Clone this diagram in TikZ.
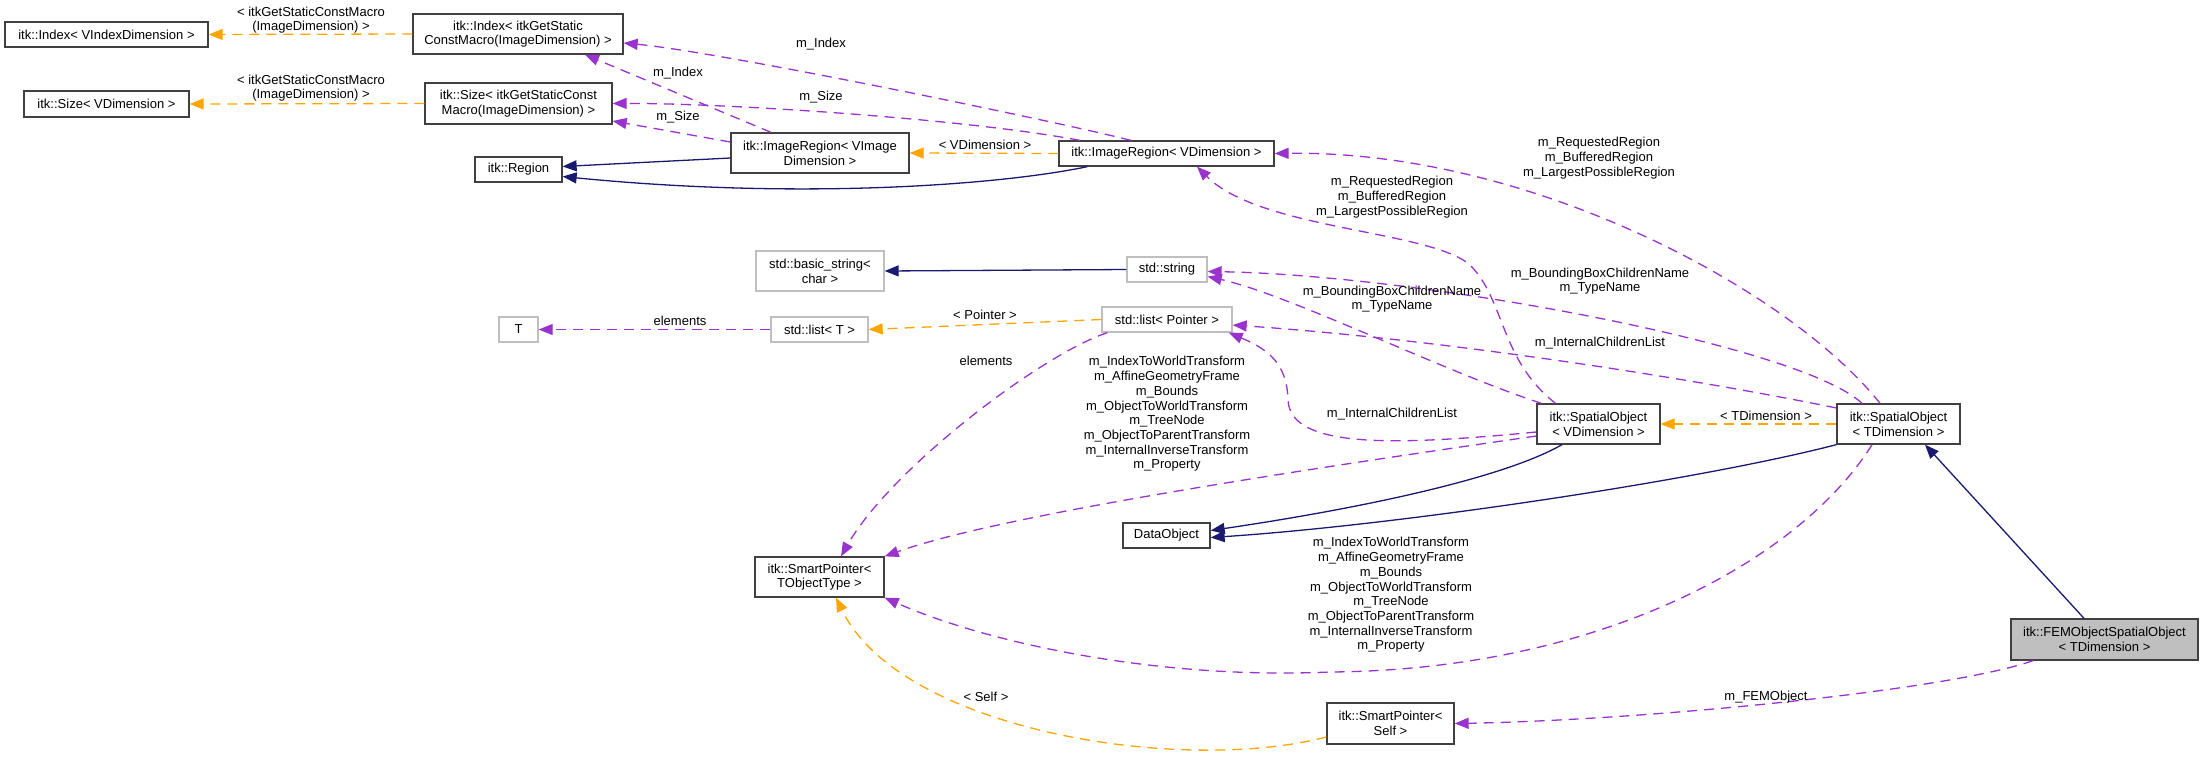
\documentclass[tikz,border=0pt]{standalone}
\usepackage{fontspec}
\setmainfont{Liberation Sans}
\usetikzlibrary{arrows.meta}
\definecolor{DoxNavy}{HTML}{191970}
\definecolor{DoxPurple}{HTML}{9A32CD}
\definecolor{DoxOrange}{HTML}{FFA500}
\definecolor{DoxGrey}{HTML}{BFBFBF}
\definecolor{DoxFrame}{HTML}{404040}
\tikzset{
  cls/.style={draw=DoxFrame,line width=1.3pt,fill=white,align=center,inner sep=0pt,
    font=\fontsize{13}{14.7}\selectfont},
  ext/.style={cls,draw=DoxGrey},
  cur/.style={cls,fill=DoxGrey},
  lbl/.style={align=center,inner sep=0pt,font=\fontsize{13}{14.7}\selectfont},
  inherit/.style={-{Triangle[length=14pt,width=11pt]},line width=1.3pt,draw=DoxNavy},
  member/.style={-{Triangle[length=14pt,width=11pt]},line width=1.3pt,draw=DoxPurple,
    dash pattern=on 10pt off 7pt},
  tmpl/.style={-{Triangle[length=14pt,width=11pt]},line width=1.3pt,draw=DoxOrange,
    dash pattern=on 10pt off 7pt}
}

\begin{document}
\begin{tikzpicture}[x=1pt,y=-1pt]
  \useasboundingbox (0,0) rectangle (2205,756);
  \node[cls,minimum width=203pt,minimum height=25pt] (idxv) at (106.5,34.5) {itk::Index< VIndexDimension >};
  \node[cls,minimum width=210pt,minimum height=40pt] (idxg) at (518,34) {itk::Index< itkGetStatic\\ConstMacro(ImageDimension) >};
  \node[cls,minimum width=165pt,minimum height=26pt] (sizev) at (106.5,104) {itk::Size< VDimension >};
  \node[cls,minimum width=187pt,minimum height=41pt] (sizeg) at (518.5,103.5) {itk::Size< itkGetStaticConst\\Macro(ImageDimension) >};
  \node[cls,minimum width=87pt,minimum height=25pt] (region) at (518.5,169.5) {itk::Region};
  \node[cls,minimum width=178pt,minimum height=40pt] (imgvi) at (820,153) {itk::ImageRegion< VImage\\Dimension >};
  \node[cls,minimum width=215pt,minimum height=25pt] (imgv) at (1166.5,153.5) {itk::ImageRegion< VDimension >};
  \node[ext,minimum width=128pt,minimum height=40pt] (bstr) at (820,271) {std::basic\_string<\\char >};
  \node[ext,minimum width=80pt,minimum height=25pt] (str) at (1167,269.5) {std::string};
  \node[ext,minimum width=39pt,minimum height=25pt] (tt) at (518.5,329.5) {T};
  \node[ext,minimum width=97pt,minimum height=25pt] (listt) at (819.5,329.5) {std::list< T >};
  \node[ext,minimum width=130pt,minimum height=25pt] (listp) at (1167,319.5) {std::list< Pointer >};
  \node[cls,minimum width=123pt,minimum height=40pt] (spv) at (1598.5,424) {itk::SpatialObject\\< VDimension >};
  \node[cls,minimum width=123pt,minimum height=40pt] (spt) at (1898.5,424) {itk::SpatialObject\\< TDimension >};
  \node[cls,minimum width=87pt,minimum height=25pt] (dobj) at (1166.5,535.5) {DataObject};
  \node[cls,minimum width=129pt,minimum height=40pt] (smpt) at (819.5,577) {itk::SmartPointer<\\TObjectType >};
  \node[cls,minimum width=127pt,minimum height=41pt] (smps) at (1390.5,723.5) {itk::SmartPointer<\\Self >};
  \node[cur,minimum width=187pt,minimum height=41pt] (fem) at (2104.5,639.5) {itk::FEMObjectSpatialObject\\< TDimension >};

  \draw[tmpl] (idxg.west) -- (idxv.east);
  \draw[tmpl] (sizeg.west) -- (sizev.east);
  \draw[member] ([xshift=-49pt]imgvi.north) -- ([xshift=67pt]idxg.south);
  \draw[member] ([yshift=11pt]imgvi.west) -- ([yshift=-17.5pt]sizeg.east);
  \draw[member] ([xshift=-35.5pt]imgv.north) .. controls (1050,120) and (720,52) .. ([yshift=-9pt]idxg.east);
  \draw[member] ([xshift=-86.5pt]imgv.north) .. controls (960,118) and (720,103) .. (sizeg.east);
  \draw[tmpl] (imgv.west) -- (imgvi.east);
  \draw[inherit] ([yshift=-5pt]imgvi.west) -- ([yshift=3pt]region.east);
  \draw[inherit] ([xshift=29pt]imgv.south west) .. controls (1000,185) and (800,200) .. ([yshift=-7pt]region.east);
  \draw[member] ([xshift=-18.5pt]spt.north) .. controls (1790,290) and (1530,150) .. (imgv.east);
  \draw[member] ([xshift=-43pt]spv.north) .. controls (1500,360) and (1505,300) .. (1470,265)
    .. controls (1430,230) and (1260,230) .. ([xshift=30.5pt]imgv.south);
  \draw[inherit] (str.west) -- (bstr.east);
  \draw[member] ([xshift=5pt]spv.north west) .. controls (1440,370) and (1290,295) .. ([yshift=-7pt]str.east);
  \draw[member] ([xshift=-36.5pt]spt.north) .. controls (1800,345) and (1420,275) .. ([yshift=-2pt]str.east);
  \draw[tmpl] (listp.west) -- (listt.east);
  \draw[member] (listt.west) -- (tt.east);
  \draw[member] ([xshift=6pt]listp.south west) .. controls (1040,355) and (890,470) .. ([xshift=21.5pt]smpt.north);
  \draw[member] ([yshift=-8pt]spv.west) .. controls (1400,445) and (1290,450) .. (1288,400)
    .. controls (1287,365) and (1270,350) .. ([xshift=-4pt]listp.south east);
  \draw[member] ([yshift=16pt]spt.west) .. controls (1700,380) and (1450,340) .. ([yshift=-5.5pt]listp.east);
  \draw[tmpl] (spt.west) -- (spv.east);
  \draw[member] ([yshift=-12pt]spv.west) .. controls (1300,470) and (1000,515) .. (smpt.north east);
  \draw[member] ([xshift=-26.5pt]spt.south) .. controls (1800,560) and (1600,670) .. (1330,672)
    .. controls (1150,680) and (980,640) .. (smpt.south east);
  \draw[inherit] ([xshift=-36.5pt]spv.south) .. controls (1500,480) and (1350,510) .. ([yshift=5pt]dobj.east);
  \draw[inherit] (spt.south west) .. controls (1700,480) and (1400,525) .. ([yshift=-2pt]dobj.east);
  \draw[inherit] ([xshift=-20.5pt]fem.north) -- ([xshift=26.5pt]spt.south);
  \draw[member] ([xshift=-71.5pt]fem.south) .. controls (1950,690) and (1650,720) .. (smps.east);
  \draw[tmpl] ([yshift=-13.5pt]smps.west) .. controls (1180,775) and (900,730) .. ([xshift=16.5pt]smpt.south);

  \node[lbl] (lidx) at (311,20) {< itkGetStaticConstMacro\\(ImageDimension) >};
  \node[lbl] (lsize) at (311,88) {< itkGetStaticConstMacro\\(ImageDimension) >};
  \node[lbl] (lidx1) at (678,73) {m\_Index};
  \node[lbl] (lsize1) at (678,117) {m\_Size};
  \node[lbl] (lidx2) at (821,44) {m\_Index};
  \node[lbl] (lsize2) at (821,97) {m\_Size};
  \node[lbl] (lvdim) at (985,145) {< VDimension >};
  \node[lbl] (lreg1) at (1599,158) {m\_RequestedRegion\\m\_BufferedRegion\\m\_LargestPossibleRegion};
  \node[lbl] (lreg2) at (1392,197) {m\_RequestedRegion\\m\_BufferedRegion\\m\_LargestPossibleRegion};
  \node[lbl] (lname1) at (1392,299) {m\_BoundingBoxChildrenName\\m\_TypeName};
  \node[lbl] (lname2) at (1600,281) {m\_BoundingBoxChildrenName\\m\_TypeName};
  \node[lbl] (llist1) at (1392,414) {m\_InternalChildrenList};
  \node[lbl] (llist2) at (1600,343) {m\_InternalChildrenList};
  \node[lbl] (lptr) at (985,315) {< Pointer >};
  \node[lbl] (lelem1) at (680,321) {elements};
  \node[lbl] (lelem2) at (986,361) {elements};
  \node[lbl] (ltfm1) at (1167,414) {m\_IndexToWorldTransform\\m\_AffineGeometryFrame\\m\_Bounds\\m\_ObjectToWorldTransform\\m\_TreeNode\\m\_ObjectToParentTransform\\m\_InternalInverseTransform\\m\_Property};
  \node[lbl] (ltfm2) at (1391,595) {m\_IndexToWorldTransform\\m\_AffineGeometryFrame\\m\_Bounds\\m\_ObjectToWorldTransform\\m\_TreeNode\\m\_ObjectToParentTransform\\m\_InternalInverseTransform\\m\_Property};
  \node[lbl] (ltdim) at (1766,416) {< TDimension >};
  \node[lbl] (lself) at (986,697) {< Self >};
  \node[lbl] (lfem) at (1766,697) {m\_FEMObject};
\end{tikzpicture}
\end{document}
